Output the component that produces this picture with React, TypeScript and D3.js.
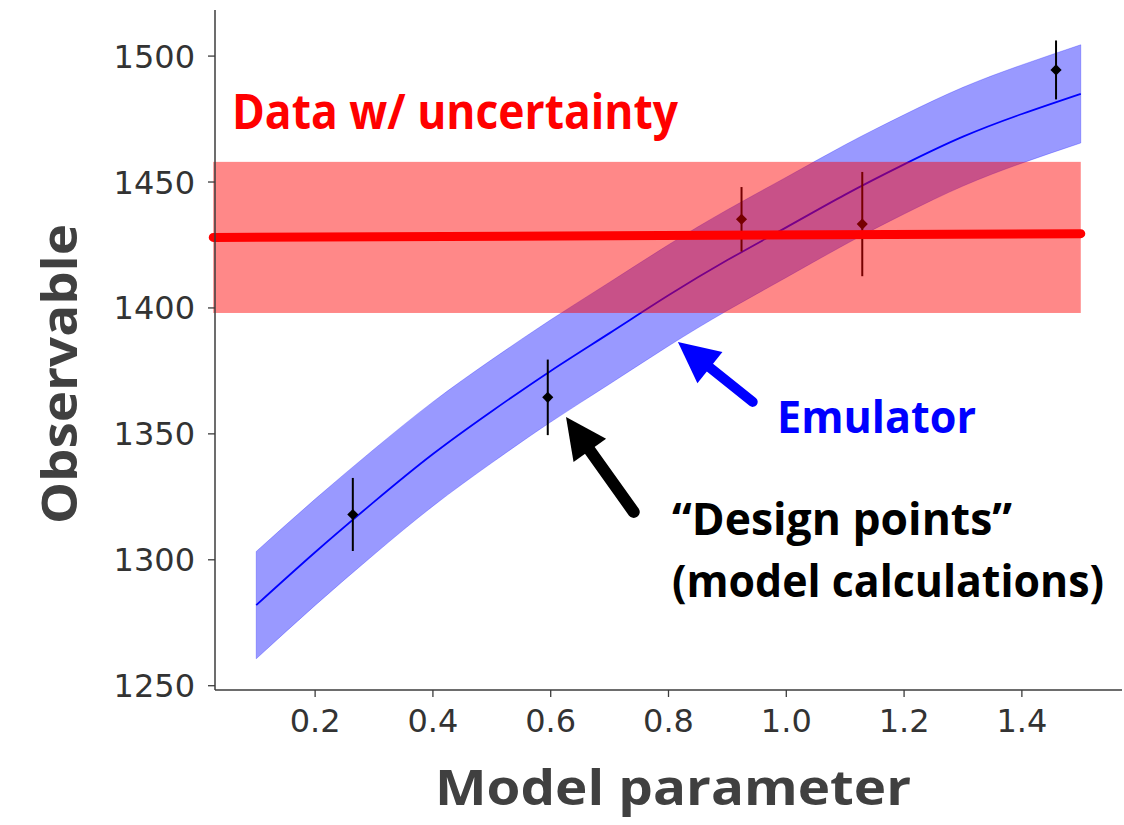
import React from "react";
import * as d3 from "d3";

// Emulator prediction (mean and half-width of the uncertainty band)
const emuX = [0.1, 0.2, 0.3, 0.4, 0.5, 0.6, 0.7, 0.8, 0.9, 1.0, 1.1, 1.2, 1.3, 1.4, 1.5];
const emuMean = [1282, 1303, 1323, 1342, 1359, 1375, 1390, 1405, 1419, 1432, 1445, 1457, 1468, 1477, 1485];
const emuHalf = [21.3, 21.1, 20.9, 20.7, 20.5, 20.3, 20.2, 20.1, 20.0, 19.9, 19.8, 19.7, 19.6, 19.5, 19.5];

// Design points (model calculations) with their error bars
const designX = [0.264, 0.595, 0.924, 1.129, 1.458];
const designY = [1318, 1364.5, 1435.2, 1433.3, 1494.5];
const designErr = [14.5, 15, 12.8, 20.7, 11.7];

// Measured data with uncertainty
const dataValueStart = 1428;
const dataValueEnd = 1429.5;
const dataUncertainty = 30;
const dataXRange = [0.027, 1.5];

// Axes
const xTicks = [0.2, 0.4, 0.6, 0.8, 1.0, 1.2, 1.4];
const yTicks = [1250, 1300, 1350, 1400, 1450, 1500];
const xDomain = [0.03, 1.57];
const yDomain = [1248.3, 1518.3];

const W = 1124;
const H = 825;
const plot = { left: 215, right: 1122, top: 10, bottom: 690 };

const x = d3.scaleLinear().domain(xDomain).range([plot.left, plot.right]);
const y = d3.scaleLinear().domain(yDomain).range([plot.bottom, plot.top]);

const axisColor = "#3c3c3c";
const tickFont = "'DejaVu Sans', sans-serif";
const labelFont = "'Open Sans', Lato, sans-serif";

type Pt = [number, number];

function Arrow({ from, to, color, width }: { from: Pt; to: Pt; color: string; width: number }) {
  const x0 = x(from[0]);
  const y0 = y(from[1]);
  const x1 = x(to[0]);
  const y1 = y(to[1]);
  const dx = x1 - x0;
  const dy = y1 - y0;
  const len = Math.hypot(dx, dy);
  const ux = dx / len;
  const uy = dy / len;
  const headLen = 41;
  const headHalf = 20;
  const bx = x1 - ux * headLen;
  const by = y1 - uy * headLen;
  const px = -uy;
  const py = ux;
  const head = d3.path();
  head.moveTo(x1, y1);
  head.lineTo(bx + px * headHalf, by + py * headHalf);
  head.lineTo(bx - px * headHalf, by - py * headHalf);
  head.closePath();
  return (
    <g>
      <line
        x1={x0}
        y1={y0}
        x2={bx + ux * 4}
        y2={by + uy * 4}
        stroke={color}
        strokeWidth={width}
        strokeLinecap="round"
      />
      <path d={head.toString()} fill={color} />
    </g>
  );
}

export default function App() {
  const idx = d3.range(emuX.length);
  const band = d3
    .area<number>()
    .x((i) => x(emuX[i]))
    .y0((i) => y(emuMean[i] - emuHalf[i]))
    .y1((i) => y(emuMean[i] + emuHalf[i]))
    .curve(d3.curveNatural);
  const meanLine = d3
    .line<number>()
    .x((i) => x(emuX[i]))
    .y((i) => y(emuMean[i]))
    .curve(d3.curveNatural);
  const diamond = d3.symbol().type(d3.symbolSquare).size(62)();

  return (
    <svg
      width={W}
      height={H}
      viewBox={`0 0 ${W} ${H}`}
      style={{ position: "absolute", left: 0, top: 0, background: "#fff" }}
    >
      {/* emulator band and mean */}
      <path d={band(idx) || ""} fill="#0000ff" fillOpacity={0.4} stroke="#0000ff" strokeOpacity={0.25} strokeWidth={1} />
      <path d={meanLine(idx) || ""} fill="none" stroke="#0000ff" strokeWidth={1.8} />

      {/* design points */}
      {designX.map((dx, i) => (
        <g key={i}>
          <line
            x1={x(dx)}
            x2={x(dx)}
            y1={y(designY[i] - designErr[i])}
            y2={y(designY[i] + designErr[i])}
            stroke="#000"
            strokeWidth={2}
          />
          <path d={diamond || ""} transform={`translate(${x(dx)},${y(designY[i])}) rotate(45)`} fill="#000" />
        </g>
      ))}

      {/* measured data band and central value */}
      <rect
        x={x(dataXRange[0])}
        width={x(dataXRange[1]) - x(dataXRange[0])}
        y={y(dataValueStart + dataUncertainty)}
        height={y(dataValueStart - dataUncertainty) - y(dataValueStart + dataUncertainty)}
        fill="#ff0000"
        fillOpacity={0.465}
      />
      <line
        x1={x(dataXRange[0])}
        x2={x(dataXRange[1])}
        y1={y(dataValueStart)}
        y2={y(dataValueEnd)}
        stroke="#ff0000"
        strokeWidth={9}
        strokeLinecap="round"
      />

      {/* axes */}
      <line x1={plot.left} x2={plot.left} y1={plot.top} y2={plot.bottom} stroke={axisColor} strokeWidth={1.5} />
      <line x1={plot.left} x2={plot.right} y1={plot.bottom} y2={plot.bottom} stroke={axisColor} strokeWidth={1.5} />
      {yTicks.map((t) => (
        <g key={t}>
          <line x1={plot.left - 7} x2={plot.left} y1={y(t)} y2={y(t)} stroke={axisColor} strokeWidth={1.3} />
          <text
            x={plot.left - 20}
            y={y(t)}
            dy="0.36em"
            textAnchor="end"
            fontFamily={tickFont}
            fontSize={32}
            fill="#333"
          >
            {t}
          </text>
        </g>
      ))}
      {xTicks.map((t) => (
        <g key={t}>
          <line x1={x(t)} x2={x(t)} y1={plot.bottom} y2={plot.bottom + 7} stroke={axisColor} strokeWidth={1.3} />
          <text
            x={x(t)}
            y={plot.bottom + 42}
            textAnchor="middle"
            fontFamily={tickFont}
            fontSize={32}
            fill="#333"
          >
            {d3.format(".1f")(t)}
          </text>
        </g>
      ))}

      {/* axis titles */}
      <text
        x={673}
        y={805}
        textAnchor="middle"
        fontFamily={labelFont}
        fontWeight={700}
        fontSize={49}
        fill="#404040"
        textLength={476}
        lengthAdjust="spacingAndGlyphs"
      >
        Model parameter
      </text>
      <text
        transform="translate(77,374) rotate(-90)"
        textAnchor="middle"
        fontFamily={labelFont}
        fontWeight={700}
        fontSize={49}
        fill="#404040"
        textLength={300}
        lengthAdjust="spacingAndGlyphs"
      >
        Observable
      </text>

      {/* annotations */}
      <text
        x={232}
        y={129}
        fontFamily={labelFont}
        fontWeight={700}
        fontSize={48}
        fill="#ff0000"
        textLength={446}
        lengthAdjust="spacingAndGlyphs"
      >
        Data w/ uncertainty
      </text>
      <Arrow from={[0.943, 1362.7]} to={[0.816, 1386.5]} color="#0000ff" width={10} />
      <text
        x={777}
        y={433}
        fontFamily={labelFont}
        fontWeight={700}
        fontSize={45}
        fill="#0000ff"
        textLength={199}
        lengthAdjust="spacingAndGlyphs"
      >
        Emulator
      </text>
      <Arrow from={[0.741, 1319.0]} to={[0.626, 1356.7]} color="#000" width={12} />
      <text
        x={672}
        y={535}
        fontFamily={labelFont}
        fontWeight={700}
        fontSize={44}
        fill="#000"
        textLength={340}
        lengthAdjust="spacingAndGlyphs"
      >
        “Design points”
      </text>
      <text
        x={672}
        y={597}
        fontFamily={labelFont}
        fontWeight={700}
        fontSize={44}
        fill="#000"
        textLength={432}
        lengthAdjust="spacingAndGlyphs"
      >
        (model calculations)
      </text>
    </svg>
  );
}
